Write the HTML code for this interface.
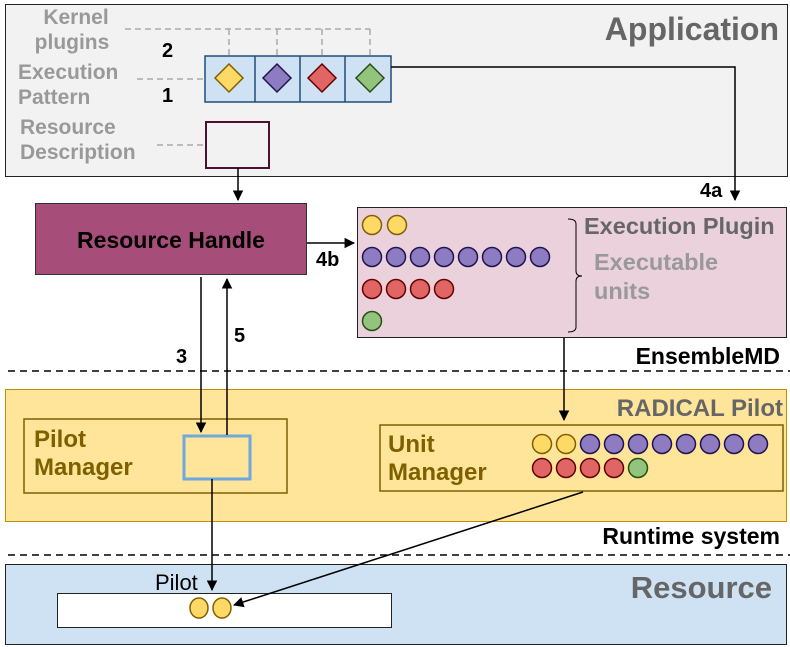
<!DOCTYPE html>
<html><head><meta charset="utf-8"><style>
html,body{margin:0;padding:0;background:#fff;}
svg{display:block;font-family:"Liberation Sans",sans-serif;font-weight:bold;}
</style></head><body>
<svg width="790" height="647" viewBox="0 0 790 647" xmlns="http://www.w3.org/2000/svg">
<defs>
<marker id="a" viewBox="0 0 10 10" refX="9" refY="5" markerWidth="7" markerHeight="7" orient="auto"><path d="M0,0 L10,5 L0,10 Z" fill="#000"/></marker>
</defs>
<!-- Application -->
<rect x="5.5" y="4.5" width="782" height="172" fill="#f2f2f2" stroke="#222" stroke-width="1"/>
<text x="779" y="40" text-anchor="end" font-size="32" fill="#666">Application</text>
<g font-size="21" fill="#999">
<text x="76" y="24" text-anchor="middle">Kernel</text>
<text x="72" y="49" text-anchor="middle">plugins</text>
<text x="18" y="79">Execution</text>
<text x="18" y="104">Pattern</text>
<text x="20" y="134">Resource</text>
<text x="20" y="159">Description</text>
</g>
<text x="162" y="57" font-size="20" fill="#000">2</text>
<text x="162" y="102" font-size="20" fill="#000">1</text>
<g stroke="#aaa" stroke-width="1.5" stroke-dasharray="6,4" fill="none">
<path d="M125,29 H370 M229,29 V63 M277,29 V63 M322,29 V63 M370,29 V63"/>
<path d="M137,79 H205"/>
<path d="M157,145 H205"/>
</g>
<rect x="205" y="56" width="186" height="46" fill="#cfe2f3" stroke="#1f4e79" stroke-width="1.5"/>
<path d="M255,56 V102 M300,56 V102 M345,56 V102" stroke="#1f4e79" stroke-width="1.5"/>
<polygon points="229,64 243,78 229,92 215,78" fill="#ffd966" stroke="#7f6000" stroke-width="1.5"/>
<polygon points="277,64 291,78 277,92 263,78" fill="#8e7cc3" stroke="#20124d" stroke-width="1.5"/>
<polygon points="322,64 336,78 322,92 308,78" fill="#e06666" stroke="#660000" stroke-width="1.5"/>
<polygon points="370,64 384,78 370,92 356,78" fill="#93c47d" stroke="#274e13" stroke-width="1.5"/>
<rect x="206" y="122" width="63" height="46" fill="#f2f2f2" stroke="#4c1130" stroke-width="2"/>
<path d="M238,168 V200" stroke="#000" stroke-width="1.5" marker-end="url(#a)"/>
<path d="M391,67 H735 V200" stroke="#000" stroke-width="1.5" fill="none" marker-end="url(#a)"/>
<text x="700" y="197" font-size="20" fill="#000">4a</text>
<!-- Resource handle -->
<rect x="35.5" y="203.5" width="271" height="71" fill="#a64d79" stroke="#333" stroke-width="1"/>
<text x="171" y="248" text-anchor="middle" font-size="23" fill="#000">Resource Handle</text>
<path d="M307,243 H354" stroke="#000" stroke-width="1.5" marker-end="url(#a)"/>
<text x="316" y="266" font-size="20" fill="#000">4b</text>
<!-- Execution plugin -->
<rect x="357.5" y="207.5" width="429" height="130" fill="#ead1dc" stroke="#222" stroke-width="1"/>
<g stroke-width="1.5">
<g fill="#ffd966" stroke="#7f6000"><circle cx="372" cy="225" r="9.5"/><circle cx="397" cy="225" r="9.5"/></g>
<g fill="#8e7cc3" stroke="#20124d">
<circle cx="372" cy="257" r="9.5"/><circle cx="396" cy="257" r="9.5"/><circle cx="420" cy="257" r="9.5"/><circle cx="444" cy="257" r="9.5"/><circle cx="468" cy="257" r="9.5"/><circle cx="492" cy="257" r="9.5"/><circle cx="516" cy="257" r="9.5"/><circle cx="540" cy="257" r="9.5"/></g>
<g fill="#e06666" stroke="#660000"><circle cx="372" cy="289" r="9.5"/><circle cx="396" cy="289" r="9.5"/><circle cx="420" cy="289" r="9.5"/><circle cx="444" cy="289" r="9.5"/></g>
<circle cx="372" cy="321" r="9.5" fill="#93c47d" stroke="#274e13"/>
</g>
<path d="M568,219 Q576,219 576,224 V271 Q576,276 582,276 Q576,276 576,281 V327 Q576,332 568,332" stroke="#000" stroke-width="1" fill="none"/>
<text x="584" y="234" font-size="23.5" fill="#666">Execution Plugin</text>
<text x="594" y="270" font-size="23.5" fill="#999">Executable</text>
<text x="594" y="299" font-size="23.5" fill="#999">units</text>
<text x="780" y="364" text-anchor="end" font-size="23" fill="#000">EnsembleMD</text>
<path d="M8,371 H790" stroke="#000" stroke-width="1.5" stroke-dasharray="7,5"/>
<!-- RADICAL -->
<rect x="5.5" y="389.5" width="781" height="132" fill="#ffe599" stroke="#bf9000" stroke-width="1"/>
<path d="M564,338 V420" stroke="#000" stroke-width="1.5" marker-end="url(#a)"/>
<text x="783" y="416" text-anchor="end" font-size="24" fill="#666">RADICAL Pilot</text>
<rect x="24" y="419" width="263" height="74" fill="none" stroke="#7f6000" stroke-width="1.5"/>
<text x="34" y="447" font-size="24" fill="#7f6000">Pilot</text>
<text x="34" y="475" font-size="24" fill="#7f6000">Manager</text>
<rect x="184" y="436" width="66" height="43" fill="#ffe599" stroke="#6fa8dc" stroke-width="3"/>
<path d="M201,277 V432" stroke="#000" stroke-width="1.5" marker-end="url(#a)"/>
<path d="M227,435 V279" stroke="#000" stroke-width="1.5" marker-end="url(#a)"/>
<text x="176" y="363" font-size="20" fill="#000">3</text>
<text x="234" y="342" font-size="20" fill="#000">5</text>
<rect x="380" y="425" width="403" height="66" fill="none" stroke="#7f6000" stroke-width="1.5"/>
<text x="388" y="452" font-size="24" fill="#7f6000">Unit</text>
<text x="388" y="480" font-size="24" fill="#7f6000">Manager</text>
<g stroke-width="1.5">
<g fill="#ffd966" stroke="#7f6000"><circle cx="542" cy="444" r="9.5"/><circle cx="566" cy="444" r="9.5"/></g>
<g fill="#8e7cc3" stroke="#20124d">
<circle cx="590" cy="444" r="9.5"/><circle cx="614" cy="444" r="9.5"/><circle cx="638" cy="444" r="9.5"/><circle cx="662" cy="444" r="9.5"/><circle cx="686" cy="444" r="9.5"/><circle cx="710" cy="444" r="9.5"/><circle cx="734" cy="444" r="9.5"/><circle cx="758" cy="444" r="9.5"/></g>
<g fill="#e06666" stroke="#660000"><circle cx="542" cy="468" r="9.5"/><circle cx="566" cy="468" r="9.5"/><circle cx="590" cy="468" r="9.5"/><circle cx="614" cy="468" r="9.5"/></g>
<circle cx="638" cy="468" r="9.5" fill="#93c47d" stroke="#274e13"/>
</g>
<text x="780" y="544" text-anchor="end" font-size="23" fill="#000">Runtime system</text>
<path d="M8,555 H790" stroke="#000" stroke-width="1.5" stroke-dasharray="7,5"/>
<!-- Resource -->
<rect x="5.5" y="564.5" width="781" height="80" fill="#cfe2f3" stroke="#222" stroke-width="1"/>
<text x="772" y="598" text-anchor="end" font-size="31" fill="#666">Resource</text>
<rect x="57.5" y="593.5" width="334" height="34" fill="#fff" stroke="#222" stroke-width="1"/>
<text x="155" y="590" font-size="22" font-weight="normal" fill="#000">Pilot</text>
<g fill="#ffd966" stroke="#7f6000" stroke-width="1.5"><ellipse cx="199" cy="608" rx="9" ry="10"/><ellipse cx="222" cy="608" rx="9" ry="10"/></g>
<path d="M212,479 V590" stroke="#000" stroke-width="1.5" marker-end="url(#a)"/>
<path d="M583,492 L234,605" stroke="#000" stroke-width="1.5" marker-end="url(#a)"/>
</svg>
</body></html>
